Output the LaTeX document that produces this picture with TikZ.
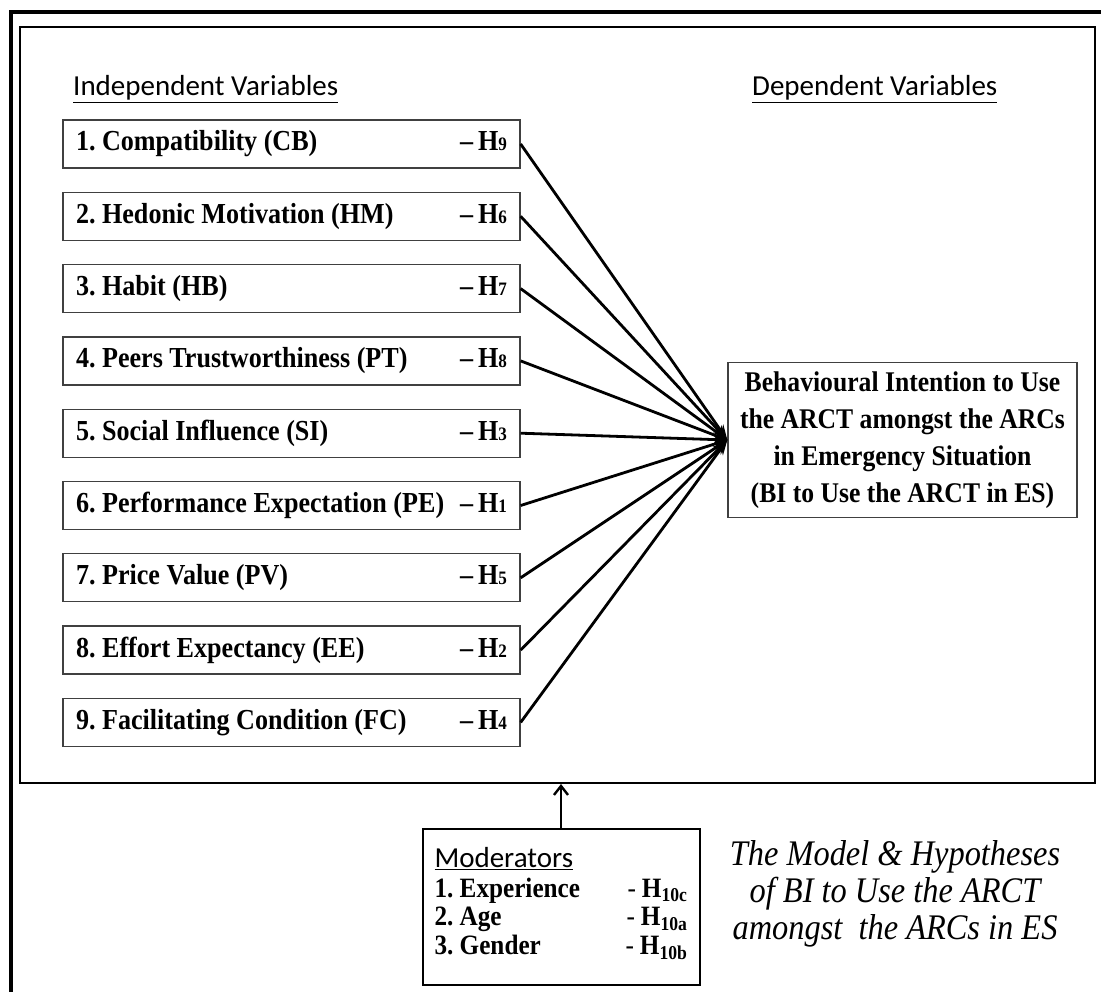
\documentclass[tikz,border=0pt]{standalone}
\usepackage{fontspec}
\setmainfont{Liberation Serif}
\newfontfamily\calibri{Carlito}
\newfontfamily\narrow[Ligatures=TeX, FakeStretch=0.9, WordSpace=0.8]{Liberation Serif}
\newfontfamily\capfont[Ligatures=TeX, FakeStretch=0.9]{Liberation Serif}
\usetikzlibrary{arrows.meta}

\newcommand{\hyp}[1]{--\hspace{5pt}H{\fontsize{19}{19}\selectfont #1}}
\newcommand{\ivline}[2]{\hbox to 431pt{#1\hfill\hyp{#2}}}
\newcommand{\modline}[2]{\hbox to 253pt{#1\hfill{\mdseries -}\hspace{6pt}H\textsubscript{#2}}}

\tikzset{
  ivbox/.style={draw=black!75, line width=1.3pt, minimum width=457pt, minimum height=48pt,
                inner xsep=13pt, font=\narrow\fontsize{29}{30}\selectfont\bfseries},
  dvbox/.style={draw=black!75, line width=1.3pt, minimum width=349pt, minimum height=155pt,
                align=center, font=\narrow\fontsize{28.5}{37}\selectfont\bfseries},
  head/.style={inner sep=0pt, font=\calibri\fontsize{29}{34}\selectfont},
  conn/.style={line width=2.8pt, -{Stealth[length=15pt,width=11pt]}},
  modarr/.style={line width=2.4pt, -{Straight Barb[length=9pt,width=14pt]}},
}

\begin{document}
\frenchspacing
\begin{tikzpicture}[x=1pt,y=-1pt]
  \useasboundingbox (0,0) rectangle (1101,992);
  \clip (0,0) rectangle (1101,992);
  % frames
  \draw[line width=4pt] (11,12) rectangle (1130,1030);
  \node[draw, line width=2pt, inner sep=0pt, minimum width=1075pt, minimum height=756pt]
        (frame) at (557.5,405) {};

  % headings
  \node[head, anchor=base west] (ivh) at (73,96) {\underline{Independent Variables}};
  \node[head, anchor=base west] (dvh) at (752,96) {\underline{Dependent Variables}};

  % independent variables
  \node[ivbox] (cb) at (291.5,144)   {\ivline{1. Compatibility (CB)}{9}};
  \node[ivbox] (hm) at (291.5,216.3) {\ivline{2. Hedonic Motivation (HM)}{6}};
  \node[ivbox] (hb) at (291.5,288.6) {\ivline{3. Habit (HB)}{7}};
  \node[ivbox] (pt) at (291.5,360.9) {\ivline{4. Peers Trustworthiness (PT)}{8}};
  \node[ivbox] (si) at (291.5,433.2) {\ivline{5. Social Influence (SI)}{3}};
  \node[ivbox] (pe) at (291.5,505.5) {\ivline{6. Performance Expectation (PE)}{1}};
  \node[ivbox] (pv) at (291.5,577.8) {\ivline{7. Price Value (PV)}{5}};
  \node[ivbox] (ee) at (291.5,650.1) {\ivline{8. Effort Expectancy (EE)}{2}};
  \node[ivbox] (fc) at (291.5,722.4) {\ivline{9. Facilitating Condition (FC)}{4}};

  % dependent variable
  \node[dvbox] (bi) at (902.5,440) {Behavioural Intention to Use\\
        the ARCT amongst the ARCs\\ in Emergency Situation\\
        (BI to Use the ARCT in ES)};

  \draw[conn] (cb.east) -- (bi.west);
  \draw[conn] (hm.east) -- (bi.west);
  \draw[conn] (hb.east) -- (bi.west);
  \draw[conn] (pt.east) -- (bi.west);
  \draw[conn] (si.east) -- (bi.west);
  \draw[conn] (pe.east) -- (bi.west);
  \draw[conn] (pv.east) -- (bi.west);
  \draw[conn] (ee.east) -- (bi.west);
  \draw[conn] (fc.east) -- (bi.west);

  % moderators
  \node[draw, line width=2pt, minimum width=277pt, minimum height=156pt,
        inner xsep=12pt, align=left, font=\narrow\fontsize{28}{28.5}\selectfont\bfseries]
        (mod) at (561,907) {%
    {\calibri\mdseries\fontsize{29}{29}\selectfont\underline{Moderators}}\\[1pt]
    \modline{1. Experience}{10c}\\
    \modline{2. Age}{10a}\\
    \modline{3. Gender}{10b}\rule[-12pt]{0pt}{12pt}};
  \draw[modarr] (mod.north) -- (mod.north |- frame.south);

  \node[align=center, font=\capfont\itshape\fontsize{36}{37}\selectfont] (cap) at (895,894)
        {The Model \& Hypotheses\\ of BI to Use the ARCT\\ amongst\ \ the ARCs in ES};
\end{tikzpicture}
\end{document}
